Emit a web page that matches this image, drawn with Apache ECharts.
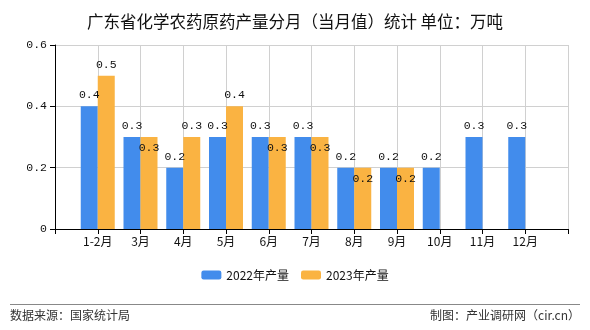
<!DOCTYPE html>
<html><head><meta charset="utf-8">
<script src="https://cdn.jsdelivr.net/npm/echarts@6/dist/echarts.min.js"></script>
<style>html,body{margin:0;padding:0;background:#fff}#c{width:590px;height:330px}</style>
</head><body><div id="c"></div>
<script>
const categories = ['1-2月','3月','4月','5月','6月','7月','8月','9月','10月','11月','12月'];
const series2022 = [0.4,0.3,0.2,0.3,0.3,0.3,0.2,0.2,0.2,0.3,0.3];
const series2023 = [0.5,0.3,0.3,0.4,0.3,0.3,0.2,0.2,null,null,null];
const yTicks = [0,0.2,0.4,0.6];
const seriesNames = ['2022年产量','2023年产量'];
const titleText = '广东省化学农药原药产量分月（当月值）统计 单位：万吨';
const sourceText = '数据来源：国家统计局';
const creditText = '制图：产业调研网（cir.cn）';

const axisCats = [''].concat(categories, ['']);
const pad = arr => [null].concat(arr, [null]);
const monoFont = '"Liberation Mono", "DejaVu Sans Mono", monospace';
const cjkFont = '"Noto Sans CJK SC", sans-serif';

const d2022 = pad(series2022);
const d2023 = pad(series2023).map((v, i) => {
  if (v == null) return null;
  const other = d2022[i];
  return { value: v, label: { position: (other != null && other >= v) ? 'insideTop' : 'top' } };
});

const chart = echarts.init(document.getElementById('c'), null, {renderer: 'canvas'});
chart.setOption({
  animation: false,
  backgroundColor: '#fff',
  title: {
    text: titleText, left: 'center', top: 8,
    textStyle: { fontFamily: cjkFont, fontSize: 16.5, fontWeight: 'normal', color: '#111' }
  },
  legend: {
    data: seriesNames, bottom: 44, left: 'center', itemWidth: 20, itemHeight: 9, itemGap: 12,
    textStyle: { fontFamily: cjkFont, fontSize: 12, color: '#111' }
  },
  grid: { left: 55, right: 22, top: 45, bottom: 101, containLabel: false },
  xAxis: {
    type: 'category', data: axisCats, boundaryGap: false,
    axisLine: { lineStyle: { color: '#000', width: 1 } },
    axisTick: { show: true, length: 5, lineStyle: { color: '#000' } },
    axisLabel: { fontFamily: cjkFont, fontSize: 12, color: '#111', margin: 6, interval: 0 },
    splitLine: { show: true, lineStyle: { color: '#d0d0d0', width: 1 } }
  },
  yAxis: {
    type: 'value', min: yTicks[0], max: yTicks[yTicks.length-1], interval: 0.2,
    axisLine: { show: true, lineStyle: { color: '#000', width: 1 } },
    axisTick: { show: true, length: 5, lineStyle: { color: '#000' } },
    axisLabel: { fontFamily: monoFont, fontSize: 11.5, color: '#111', margin: 8 },
    splitLine: { show: true, lineStyle: { color: '#d0d0d0', width: 1 } }
  },
  series: [
    {
      name: seriesNames[0], type: 'bar', data: d2022, barWidth: 17, barGap: '0%',
      itemStyle: { color: '#428cec' },
      label: { show: true, position: 'top', distance: 5, fontFamily: monoFont, fontSize: 11.5, color: '#111' }
    },
    {
      name: seriesNames[1], type: 'bar', data: d2023, barWidth: 17, barGap: '0%',
      itemStyle: { color: '#fab342' },
      label: { show: true, position: 'top', distance: 5, fontFamily: monoFont, fontSize: 11.5, color: '#111' }
    }
  ],
  graphic: [
    { type: 'line', shape: { x1: 10, y1: 304.5, x2: 580, y2: 304.5 }, style: { stroke: '#888', lineWidth: 1 } },
    { type: 'text', left: 10, top: 309, style: { text: sourceText, font: '12px ' + cjkFont, fill: '#333' } },
    { type: 'text', right: 10, top: 309, style: { text: creditText, font: '12px ' + cjkFont, fill: '#333' } }
  ]
});
</script></body></html>
